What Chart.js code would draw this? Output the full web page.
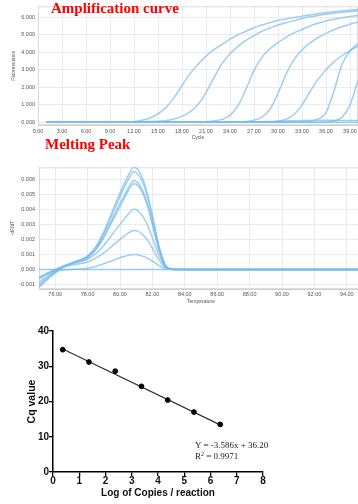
<!DOCTYPE html>
<html>
<head>
<meta charset="utf-8">
<script src="https://cdn.jsdelivr.net/npm/chart.js@4.4.0/dist/chart.umd.min.js"></script>
<style>
  html, body { margin: 0; padding: 0; background: #fff; overflow: hidden; width: 358px; height: 504px; }
  .box { position: absolute; left: 0; }
  .title { position: absolute; font-family: "Liberation Serif", serif; font-weight: bold; font-size: 15px; line-height: 15px; color: #ff0000; white-space: nowrap; }
  .eq { position: absolute; font-family: "Liberation Serif", serif; font-size: 9px; line-height: 9px; color: #222; white-space: nowrap; }
  .eq sup { font-size: 6px; line-height: 0; vertical-align: 3px; }
</style>
</head>
<body>
<div class="box" style="top:0"><canvas id="amp" width="370" height="142"></canvas></div>
<div class="box" style="top:160px"><canvas id="melt" width="372" height="148"></canvas></div>
<div class="box" style="top:310px"><canvas id="std" width="358" height="194"></canvas></div>
<div class="title" style="left:51px;top:1px">Amplification curve</div>
<div class="title" style="left:45px;top:137px">Melting Peak</div>
<div class="eq" style="left:195px;top:441px">Y = -3.586x + 36.20</div>
<div class="eq" style="left:195px;top:452px">R<sup>2</sup> = 0.9971</div>

<script>
// ---- amplification curve ----
const cycles = [1,2,3,4,5,6,7,8,9,10,11,12,13,14,15,16,17,18,19,20,21,22,23,24,25,26,27,28,29,30,31,32,33,34,35,36,37,38,39,40];
const amp1 = [0,0,0,0,0,0,0,0,0,0.01,0.02,0.05,0.12,0.25,0.48,0.85,1.4,2.1,2.78,3.32,3.78,4.15,4.45,4.75,5.0,5.2,5.4,5.55,5.7,5.82,5.9,5.98,6.06,6.13,6.2,6.26,6.31,6.36,6.4,6.44];
const amp2 = [0,0,0,0,0,0,0,0,0,0,0.01,0.02,0.03,0.05,0.07,0.1,0.19,0.34,0.6,1.02,1.7,2.55,3.35,3.92,4.33,4.68,4.95,5.2,5.38,5.55,5.68,5.8,5.92,6.02,6.1,6.17,6.23,6.28,6.32,6.36];
const amp3 = [0,0,0,0,0,0,0,0,0,0,0,0,0,0,0,0,0,0,0,0.02,0.04,0.08,0.17,0.4,0.95,1.9,2.95,3.72,4.2,4.55,4.85,5.1,5.3,5.5,5.65,5.78,5.88,5.97,6.04,6.1];
const amp4 = [0,0,0,0,0,0,0,0,0,0,0,0,0,0,0,0,0,0,0,0,0,0,0,0,0.02,0.05,0.12,0.3,0.75,1.65,2.75,3.58,4.13,4.53,4.84,5.08,5.28,5.45,5.6,5.72];
const amp5 = [0,0,0,0,0,0,0,0,0,0,0,0,0,0,0,0,0,0,0,0,0,0,0,0,0,0,0,0,0.03,0.07,0.18,0.45,1.0,1.75,2.45,3.0,3.45,3.8,4.1,4.35];
const amp6 = [0,0,0,0,0,0,0,0,0,0,0,0,0,0,0,0,0,0,0,0,0,0,0,0,0,0,0,0,0,0,0,0,0.02,0.06,0.18,0.55,1.8,3.3,4.05,4.5];
const amp7 = [0,0,0,0,0,0,0,0,0,0,0,0,0,0,0,0,0,0,0,0,0,0,0,0,0,0,0,0,0,0,0,0,0,0,0,0.02,0.08,0.3,1.0,2.4];
const ampNtc1 = [0,0,0,0,0,0,0,0,0,0,0,0,0,0,0,0,0,0,0,0,0,0,0,0,0,0,0,0,0,0,0,0,0,0,0,0,0,0,0,0];
const ampNtc2 = [0,0,0,0,0,0,0,0,0,0,0,0,0,0,0,0,0,0,0,0,0,0,0,0,0.01,0.02,0.03,0.04,0.05,0.06,0.08,0.09,0.1,0.11,0.12,0.12,0.11,0.1,0.1,0.1];
const ampXTicks = [0,3,6,9,12,15,18,21,24,27,30,33,36,39];
const ampYTicks = [0,1,2,3,4,5,6];

// ---- melting peak (values in units of 0.001) ----
const temps = [75,75.5,76,76.5,77,77.5,78,78.5,79,79.5,80,80.3,80.6,80.85,81.1,81.4,81.7,82,82.4,82.8,83.2,84,95];
const meltA = [-1.2,-0.7,-0.25,0.15,0.4,0.62,0.9,1.5,2.5,3.8,5.1,5.8,6.45,6.8,6.65,6.05,5.0,3.6,1.6,0.3,0.02,0,0];
const meltB = [-1.0,-0.55,-0.15,0.2,0.42,0.62,0.88,1.45,2.4,3.6,4.85,5.55,6.15,6.5,6.35,5.8,4.8,3.45,1.5,0.28,0.02,0,0];
const meltC = [-0.85,-0.45,-0.08,0.22,0.43,0.6,0.82,1.35,2.2,3.3,4.4,5.0,5.6,5.9,5.78,5.25,4.35,3.1,1.35,0.25,0.02,0,0];
const meltD = [-1.1,-0.6,-0.18,0.15,0.38,0.56,0.78,1.3,2.1,3.15,4.2,4.8,5.4,5.7,5.58,5.08,4.2,3.0,1.3,0.24,0.02,0,0];
const meltE = [-0.65,-0.3,0.0,0.22,0.38,0.5,0.68,1.05,1.6,2.3,3.0,3.4,3.8,4.0,3.92,3.55,2.95,2.1,0.95,0.18,0.01,0,0];
const meltF = [-0.55,-0.25,0.0,0.15,0.28,0.38,0.5,0.75,1.1,1.55,2.0,2.25,2.48,2.6,2.55,2.32,1.95,1.4,0.65,0.12,0.01,0,0];
const meltG = [-0.5,-0.3,-0.12,-0.03,0.0,0.03,0.08,0.2,0.38,0.58,0.78,0.88,0.97,1.0,0.98,0.88,0.76,0.55,0.27,0.05,0,0,0];
const meltNtc = [0,0,0,0,0,0,0,0,0,0,0,0,0,0,0,0,0,0,0,0,0,0,0];
const meltXTicks = [76,78,80,82,84,86,88,90,92,94];
const meltYTicks = [-0.001,0,0.001,0.002,0.003,0.004,0.005,0.006];

// ---- standard curve ----
const logCopies = [0.37,1.37,2.37,3.37,4.37,5.37,6.37];
const cqValues = [34.7,31.2,28.6,24.3,20.4,17.0,13.5];
const fitX = [0.37,6.37];
const fitY = [34.87,13.36];
const stdXTicks = [0,1,2,3,4,5,6,7,8];
const stdYTicks = [0,10,20,30,40];

const curveColor = "rgba(120,188,234,0.72)";
const gridColor = "#ebebeb";
const smallFont = { family: "Liberation Sans", size: 5.5 };

// outline of the plot area
const frame = {
  id: "frame",
  beforeDatasetsDraw(chart, args, opts) {
    if (!opts.color) return;
    const a = chart.chartArea, ctx = chart.ctx;
    ctx.save();
    ctx.strokeStyle = opts.color;
    ctx.lineWidth = 1;
    ctx.strokeRect(a.left + 0.5, a.top + 0.5, a.right - a.left - 1, a.bottom - a.top - 1);
    ctx.restore();
  }
};

function toPoints(xs, ys, k) {
  return ys.map((y, i) => ({ x: xs[i], y: y * (k || 1) }));
}

function setTicks(list) {
  return scale => { scale.ticks = list.map(v => ({ value: v })); };
}

// Amplification
new Chart(document.getElementById("amp"), {
  type: "line",
  data: {
    datasets: [amp1, amp2, amp3, amp4, amp5, amp6, amp7, ampNtc1, ampNtc2].map(v => ({
      data: toPoints(cycles, v),
      borderColor: curveColor,
      borderWidth: 1.5,
      pointRadius: 0,
      cubicInterpolationMode: "monotone"
    }))
  },
  options: {
    responsive: false,
    animation: false,
    events: [],
    layout: { padding: { top: 4, right: 12, left: 0, bottom: 0 } },
    plugins: { legend: { display: false }, tooltip: { enabled: false }, frame: { color: "#dcdcdc" } },
    scales: {
      x: {
        type: "linear", min: 0, max: 40,
        afterBuildTicks: setTicks(ampXTicks),
        afterFit: s => { s.height = 17; },
        grid: { color: gridColor, drawTicks: false },
        border: { color: "#d0d0d0" },
        ticks: { padding: 3, font: smallFont, color: "#555", maxRotation: 0, autoSkip: false, callback: v => v.toFixed(2) },
        title: { display: true, text: "Cycle", font: { family: "Liberation Sans", size: 5 }, color: "#555", padding: { top: 0, bottom: 1 } }
      },
      y: {
        min: -0.15, max: 6.62,
        afterBuildTicks: setTicks(ampYTicks),
        afterFit: s => { s.width = 38; },
        grid: { color: gridColor, drawTicks: false },
        border: { color: "#d0d0d0" },
        ticks: { padding: 3, font: smallFont, color: "#555", callback: v => v.toFixed(3) },
        title: { display: true, text: "Fluorescence", font: { family: "Liberation Sans", size: 5 }, color: "#555", padding: { top: 11, bottom: 0 } }
      }
    }
  },
  plugins: [frame]
});

// Melting peak
new Chart(document.getElementById("melt"), {
  type: "line",
  data: {
    datasets: [meltA, meltB, meltC, meltD, meltE, meltF, meltG, meltNtc].map(v => ({
      data: toPoints(temps, v, 0.001),
      borderColor: curveColor,
      borderWidth: 1.5,
      pointRadius: 0,
      cubicInterpolationMode: "monotone"
    }))
  },
  options: {
    responsive: false,
    animation: false,
    events: [],
    layout: { padding: { top: 6, right: 9, left: 0, bottom: 0 } },
    plugins: { legend: { display: false }, tooltip: { enabled: false }, frame: { color: "#dcdcdc" } },
    scales: {
      x: {
        type: "linear", min: 75, max: 95,
        afterBuildTicks: setTicks(meltXTicks),
        afterFit: s => { s.height = 19; },
        grid: { color: gridColor, drawTicks: false },
        border: { color: "#d0d0d0" },
        ticks: { padding: 2, font: smallFont, color: "#555", maxRotation: 0, autoSkip: false, callback: v => v.toFixed(2) },
        title: { display: true, text: "Temperature", font: { family: "Liberation Sans", size: 5 }, color: "#555", padding: { top: 0, bottom: 3 } }
      },
      y: {
        min: -0.0013, max: 0.0068,
        afterBuildTicks: setTicks(meltYTicks),
        afterFit: s => { s.width = 39; },
        grid: { color: gridColor, drawTicks: false },
        border: { color: "#d0d0d0" },
        ticks: { padding: 4, font: smallFont, color: "#555", callback: v => v.toFixed(3) },
        title: { display: true, text: "-dF/dT", font: { family: "Liberation Sans", size: 5 }, color: "#555", padding: { top: 10, bottom: 0 } }
      }
    }
  },
  plugins: [frame]
});

// Standard curve
const boldFont = { family: "Liberation Sans", weight: "bold", size: 10, lineHeight: 1 };
new Chart(document.getElementById("std"), {
  type: "scatter",
  data: {
    datasets: [
      {
        data: toPoints(logCopies, cqValues),
        backgroundColor: "#000",
        borderColor: "#000",
        pointRadius: 2.4
      },
      {
        type: "line",
        data: toPoints(fitX, fitY),
        borderColor: "#333",
        borderWidth: 1.2,
        pointRadius: 0
      }
    ]
  },
  options: {
    responsive: false,
    animation: false,
    events: [],
    layout: { padding: { top: 21, right: 95, left: 0, bottom: 0 } },
    plugins: { legend: { display: false }, tooltip: { enabled: false } },
    scales: {
      x: {
        type: "linear", min: 0, max: 8,
        afterBuildTicks: setTicks(stdXTicks),
        afterFit: s => { s.height = 32; },
        grid: { display: true, drawOnChartArea: false, drawTicks: true, tickLength: 4, color: "#000", lineWidth: 1.3 },
        border: { color: "#000", width: 1.5 },
        ticks: { padding: 0, font: boldFont, color: "#111", maxRotation: 0, autoSkip: false },
        title: { display: true, text: "Log of Copies / reaction", font: { family: "Liberation Sans", weight: "bold", size: 10 }, color: "#111", padding: { top: 0, bottom: 5 } }
      },
      y: {
        min: 0, max: 40,
        afterBuildTicks: setTicks(stdYTicks),
        afterFit: s => { s.width = 53; },
        grid: { display: true, drawOnChartArea: false, drawTicks: true, tickLength: 4, color: "#000", lineWidth: 1.3 },
        border: { color: "#000", width: 1.5 },
        ticks: { padding: 0, font: boldFont, color: "#111" },
        title: { display: true, text: "Cq value", font: { family: "Liberation Sans", weight: "bold", size: 10.5 }, color: "#111", padding: { top: 26, bottom: 0 } }
      }
    }
  }
});
</script>
</body>
</html>
